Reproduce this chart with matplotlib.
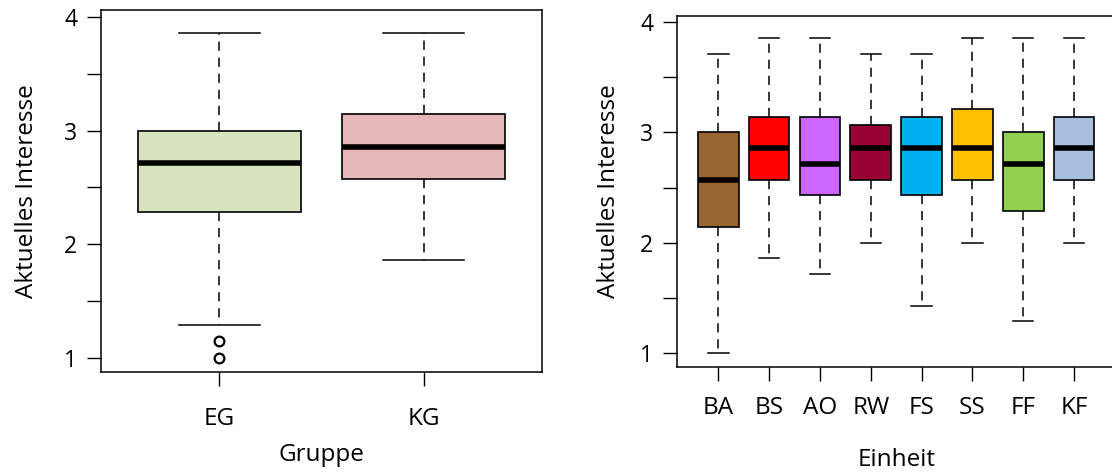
import matplotlib
matplotlib.use("Agg")
import matplotlib.pyplot as plt
from matplotlib.ticker import FixedLocator

plt.rcParams['font.family'] = ['Open Sans', 'DejaVu Sans']

# ---- Data ----
groups = ["EG", "KG"]
g_whislo = [1.286, 1.857]
g_q1 = [2.286, 2.571]
g_med = [2.714, 2.857]
g_q3 = [3.000, 3.143]
g_whishi = [3.857, 3.857]
g_fliers = [[1.143, 1.0], []]
g_colors = ["#D7E4BD", "#E6B9B8"]

units = ["BA", "BS", "AO", "RW", "FS", "SS", "FF", "KF"]
u_whislo = [1.000, 1.857, 1.714, 2.000, 1.429, 2.000, 1.286, 2.000]
u_q1 = [2.143, 2.571, 2.429, 2.571, 2.429, 2.571, 2.286, 2.571]
u_med = [2.571, 2.857, 2.714, 2.857, 2.857, 2.857, 2.714, 2.857]
u_q3 = [3.000, 3.143, 3.143, 3.071, 3.143, 3.214, 3.000, 3.143]
u_whishi = [3.714, 3.857, 3.857, 3.714, 3.714, 3.857, 3.857, 3.857]
u_colors = ["#996633", "#FF0000", "#CC66FF", "#990033",
            "#00B0F0", "#FFC000", "#92D050", "#A9BFDF"]

ylabel = "Aktuelles Interesse"
FS_TICK = 16.5
FS_LAB = 17.5


def make_stats(labels, lo, q1, med, q3, hi, fliers=None):
    stats = []
    for i, lab in enumerate(labels):
        stats.append(dict(label=lab, whislo=lo[i], q1=q1[i], med=med[i],
                          q3=q3[i], whishi=hi[i],
                          fliers=(fliers[i] if fliers else [])))
    return stats


def draw(ax, stats, colors, ylim, xlabel, ylabelpad, xlabelpad, xpad):
    n = len(stats)
    bp = ax.bxp(stats, positions=range(1, n + 1), widths=0.8, capwidths=0.4,
                patch_artist=True, showfliers=True,
                boxprops=dict(edgecolor="black", linewidth=1.2),
                medianprops=dict(color="black", linewidth=4.0,
                                 solid_capstyle="butt"),
                whiskerprops=dict(color="black", linewidth=1.1,
                                  linestyle=(0, (6, 4.5))),
                capprops=dict(color="black", linewidth=1.1),
                flierprops=dict(marker="o", markersize=7,
                                markerfacecolor="none",
                                markeredgecolor="black",
                                markeredgewidth=1.6))
    for patch, c in zip(bp["boxes"], colors):
        patch.set_facecolor(c)
    ax.set_xlim(1 - 0.5 - 0.04 * n, n + 0.5 + 0.04 * n)
    ax.set_ylim(*ylim)
    ax.yaxis.set_major_locator(FixedLocator([1, 2, 3, 4]))
    ax.yaxis.set_minor_locator(FixedLocator([1.5, 2.5, 3.5]))
    ax.set_yticklabels(["1", "2", "3", "4"])
    ax.tick_params(axis="y", which="both", length=10, width=1.0,
                   labelsize=FS_TICK, pad=7, color="black")
    ax.tick_params(axis="x", length=10, width=1.0, labelsize=FS_LAB,
                   pad=xpad, color="black")
    for s in ax.spines.values():
        s.set_linewidth(1.1)
        s.set_color("black")
    ax.set_ylabel(ylabel, fontsize=FS_LAB, labelpad=ylabelpad)
    ax.set_xlabel(xlabel, fontsize=FS_LAB, labelpad=xlabelpad)


fig = plt.figure(figsize=(11.12, 4.72), dpi=100)

ax1 = fig.add_axes([101 / 1112, 1 - 372 / 472, 441 / 1112, 362 / 472])
draw(ax1, make_stats(groups, g_whislo, g_q1, g_med, g_q3, g_whishi, g_fliers),
     g_colors, (0.873, 4.062), "Gruppe", 18, 9, 15)

ax2 = fig.add_axes([676.7 / 1112, 1 - 366.7 / 472, 439 / 1112, 351.2 / 472])
draw(ax2, make_stats(units, u_whislo, u_q1, u_med, u_q3, u_whishi),
     u_colors, (0.876, 4.06), "Einheit", 14, 20, 11)

fig.savefig("out.png", dpi=100)
